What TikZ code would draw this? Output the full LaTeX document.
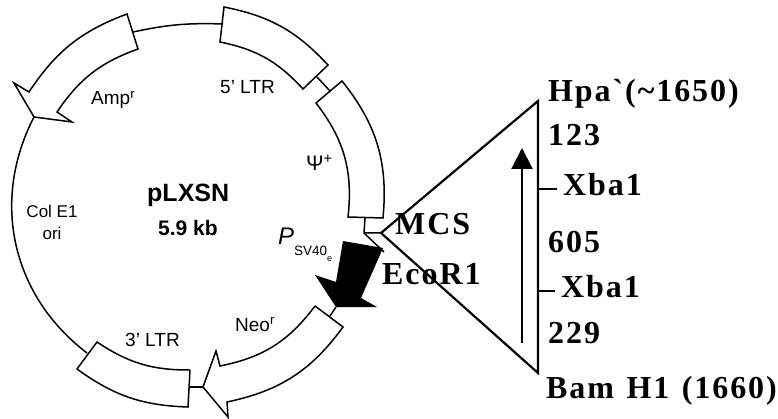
\documentclass[tikz,border=0pt]{standalone}
\usepackage{fontspec}
\setmainfont{Liberation Serif}
\setsansfont{Liberation Sans}
\newfontfamily\sitefont[LetterSpace=6]{Liberation Serif}
\usetikzlibrary{arrows.meta}
\tikzset{% This is the style settings for the map
    p/.style={line width=1.5pt, line join=miter},
    t/.style={line width=2.2pt},
    g/.style={inner sep=0pt, anchor=base west, font=\sffamily\fontsize{19}{19}\selectfont},
    n/.style={inner sep=0pt, anchor=base west, font=\sffamily\bfseries\fontsize{25}{25}\selectfont},
    s/.style={inner sep=0pt, anchor=base west, font=\sitefont\bfseries\fontsize{32}{32}\selectfont}}
\begin{document}
\begin{tikzpicture}[x=1pt,y=-1pt]
  \useasboundingbox (0,0) rectangle (778,419);

  % Amp
  \coordinate (a1) at (127,14);
  \coordinate (a2) at (29,92);
  \coordinate (a3) at (14,83);
  \coordinate (a4) at (34,117);
  \coordinate (a5) at (72,122);
  \coordinate (a6) at (57,112);
  \coordinate (a7) at (138,49);
  \coordinate (a8) at (133,32);
  % 5' LTR
  \coordinate (f1) at (224,7);
  \coordinate (f2) at (328,65);
  \coordinate (f3) at (303,89);
  \coordinate (f4) at (220,42);
  \coordinate (f5) at (223,24);
  \coordinate (f6) at (317,77);
  % psi
  \coordinate (h1) at (342,81);
  \coordinate (h2) at (383,218);
  \coordinate (h3) at (348,217);
  \coordinate (h4) at (316,103);
  \coordinate (h5) at (330,91);
  \coordinate (h6) at (365,218);
  % junction at the triangle
  \coordinate (j1) at (364,233);
  \coordinate (j2) at (384,252);
  % Neo
  \coordinate (b1) at (315,306);
  \coordinate (b2) at (343,327);
  \coordinate (b3) at (227,402);
  \coordinate (b4) at (228,417);
  \coordinate (b5) at (203,387);
  \coordinate (b6) at (216,351);
  \coordinate (b7) at (220,366);
  \coordinate (b8) at (330,316);
  % 3' LTR
  \coordinate (c1) at (190,370);
  \coordinate (c2) at (188,407);
  \coordinate (c3) at (77,369);
  \coordinate (c4) at (97,342);
  \coordinate (c5) at (189,387);
  \coordinate (c6) at (87,353);
  % SV40 arrow
  \coordinate (k1) at (343,241);
  \coordinate (k2) at (383,248);
  \coordinate (k3) at (361,298);
  \coordinate (k4) at (377,307);
  \coordinate (k5) at (336,307);
  \coordinate (k6) at (315,275);
  \coordinate (k7) at (336,282);
  % triangle
  \coordinate (m) at (381,233);
  \coordinate (u) at (538,101);
  \coordinate (d) at (538,373);
  \coordinate (x1) at (538,189);
  \coordinate (x2) at (557,189);
  \coordinate (y1) at (538,291);
  \coordinate (y2) at (555,291);
  \coordinate (v1) at (522,343);
  \coordinate (v2) at (522,148);

  \draw[p] (a1) to[bend right=18] (a2) -- (a3) -- (a4) -- (a5) -- (a6)
    to[bend left=18] (a7) -- cycle;
  \draw[p] (f1) to[bend left=18] (f2) -- (f3) to[bend right=18] (f4) -- cycle;
  \draw[p] (h1) to[bend left=22] (h2) -- (h3) to[bend right=22] (h4) -- cycle;
  \draw[p] (b1) -- (b2) to[bend left=21] (b3) -- (b4) -- (b5) -- (b6) -- (b7)
    to[bend right=21] (b1);
  \draw[p] (c1) -- (c2) to[bend left=17] (c3) -- (c4) to[bend right=17] (c1);
  \fill (k1) -- (k2) -- (k3) -- (k4) -- (k5) -- (k6) -- (k7) -- cycle;

  \draw[p] (a8) to[bend left=7] (f5);
  \draw[p] (f6) -- (h5);
  \draw[p] (h6) -- (j1) -- (m);
  \draw[p] (j1) -- (j2);
  \draw[p] (k5) -- (b8);
  \draw[p] (b5) -- (c5);
  \draw[p] (a4) to[bend right=40] (c6);

  \draw[t, line join=miter] (m) -- (u) -- (d) -- cycle;
  \draw[t] (x1) -- (x2);
  \draw[t] (y1) -- (y2);
  \draw[t, -{Triangle[width=21pt,length=21pt]}] (v1) -- (v2);

  \node[n] (name) at (147,202) {pLXSN};
  \node[n, font=\sffamily\bfseries\fontsize{21}{21}\selectfont] (size) at (158,236) {5.9 kb};
  \node[g] (amp) at (91,105) {Amp\textsuperscript{r}};
  \node[g] (ltrf) at (220,94) {5' LTR};
  \node[g, font=\sffamily\fontsize{21}{21}\selectfont] (psi) at (306,171) {Ψ\textsuperscript{+}};
  \node[g, anchor=center, align=center, font=\sffamily\fontsize{17}{22}\selectfont] (col) at (52,222) {Col E1\\ori};
  \node[g, font=\sffamily\fontsize{24}{24}\selectfont] (sv) at (278,245) {\itshape P\raisebox{-11pt}{\upshape\fontsize{13.5}{14}\selectfont SV40\raisebox{-6pt}{\fontsize{9}{9}\selectfont e}}};
  \node[g] (neo) at (235,331) {Neo\textsuperscript{r}};
  \node[g] (ltrt) at (125,346) {3' LTR};

  \node[s] (mcs) at (395,235) {MCS};
  \node[s] (eco) at (382,284) {EcoR1};
  \node[s] (hpa) at (548,102) {Hpa`(\char`\~1650)};
  \node[s] (l1) at (548,146) {123};
  \node[s] (xt) at (563,196) {Xba1};
  \node[s] (l2) at (548,253) {605};
  \node[s] (xb) at (561,298) {Xba1};
  \node[s] (l3) at (548,343) {229};
  \node[s] (bam) at (546,398) {Bam\hspace{12.5pt}H1\hspace{12.5pt}(1660)};
\end{tikzpicture}
\end{document}
